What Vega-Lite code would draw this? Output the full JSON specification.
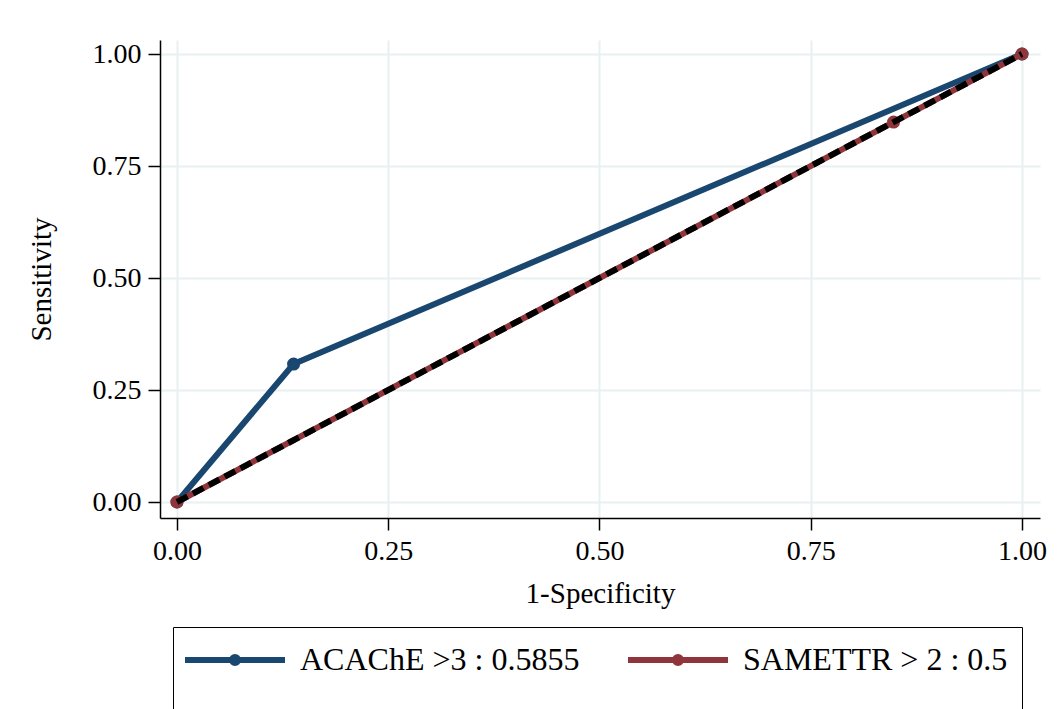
{
  "$schema": "https://vega.github.io/schema/vega-lite/v6.json",
  "width": 880,
  "height": 478,
  "autosize": {"type": "none"},
  "padding": {"left": 160, "top": 40, "right": 19, "bottom": 191},
  "background": "white",
  "config": {
    "view": {"stroke": null},
    "font": "Liberation Serif",
    "axis": {
      "domainColor": "black",
      "domainWidth": 1.5,
      "tickColor": "black",
      "tickWidth": 1.5,
      "tickSize": 12,
      "labelFont": "Liberation Serif",
      "labelFontSize": 28,
      "labelColor": "black",
      "titleFont": "Liberation Serif",
      "titleFontSize": 29,
      "titleFontWeight": "normal",
      "titleColor": "black",
      "gridColor": "#e8f0f1",
      "gridWidth": 2,
      "labelPadding": 7
    }
  },
  "datasets": {
    "roc": [
      {"model": "ACAChE >3 : 0.5855", "fpr": 0, "sens": 0},
      {"model": "ACAChE >3 : 0.5855", "fpr": 0.138, "sens": 0.308},
      {"model": "ACAChE >3 : 0.5855", "fpr": 1, "sens": 1},
      {"model": "SAMETTR > 2 : 0.5", "fpr": 0, "sens": 0},
      {"model": "SAMETTR > 2 : 0.5", "fpr": 0.848, "sens": 0.848},
      {"model": "SAMETTR > 2 : 0.5", "fpr": 1, "sens": 1}
    ],
    "ref": [
      {"fpr": 0, "sens": 0},
      {"fpr": 1, "sens": 1}
    ]
  },
  "encoding": {
    "x": {
      "field": "fpr", "type": "quantitative",
      "scale": {"domain": [-0.0201, 1.0213], "nice": false, "zero": false},
      "axis": {"values": [0, 0.25, 0.5, 0.75, 1], "format": ".2f", "title": "1-Specificity", "titlePadding": 14}
    },
    "y": {
      "field": "sens", "type": "quantitative",
      "scale": {"domain": [-0.0357, 1.03125], "nice": false, "zero": false},
      "axis": {"values": [0, 0.25, 0.5, 0.75, 1], "format": ".2f", "title": "Sensitivity", "titlePadding": 36}
    }
  },
  "layer": [
    {
      "data": {"name": "roc"},
      "mark": {"type": "line", "strokeWidth": 6},
      "encoding": {
        "color": {
          "field": "model", "type": "nominal",
          "scale": {"domain": ["ACAChE >3 : 0.5855", "SAMETTR > 2 : 0.5"], "range": ["#1a476f", "#90353b"]},
          "legend": {
            "orient": "none",
            "legendX": 13,
            "legendY": 587,
            "direction": "horizontal",
            "columns": 2,
            "gridAlign": "all",
            "title": " ",
            "titleOrient": "bottom",
            "titleFontSize": 30,
            "titlePadding": 20,
            "strokeColor": "black",
            "fillColor": "white",
            "padding": 14,
            "symbolType": "M-3.125,0H3.125M-0.19,0A0.19,0.19 0 1,0 0.19,0A0.19,0.19 0 1,0 -0.19,0",
            "symbolSize": 1024,
            "symbolStrokeWidth": 6,
            "symbolOffset": 29,
            "labelOffset": 46,
            "labelFont": "Liberation Serif",
            "labelFontSize": 32,
            "labelColor": "black",
            "labelLimit": 0,
            "columnPadding": 36
          }
        }
      }
    },
    {
      "data": {"name": "roc"},
      "mark": {"type": "point", "filled": true, "size": 170, "opacity": 1},
      "encoding": {
        "color": {"field": "model", "type": "nominal"}
      }
    },
    {
      "data": {"name": "ref"},
      "mark": {"type": "line", "color": "black", "strokeWidth": 6, "strokeDash": [12, 6]},
      "encoding": {}
    }
  ]
}
